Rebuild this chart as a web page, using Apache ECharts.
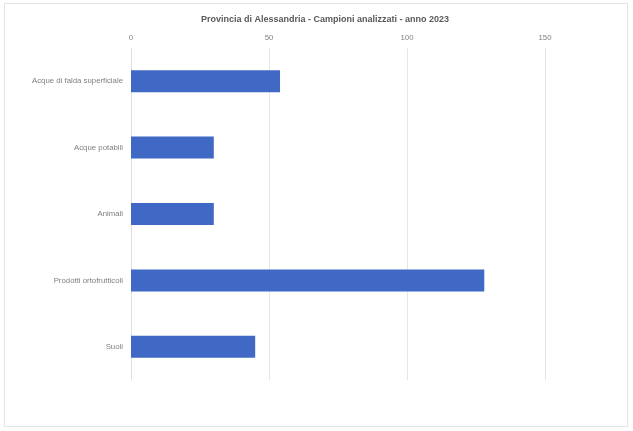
<!DOCTYPE html>
<html>
<head>
<meta charset="utf-8">
<script src="https://cdn.jsdelivr.net/npm/echarts@6/dist/echarts.min.js"></script>
<style>
  html, body { margin: 0; padding: 0; background: #ffffff; }
  #frame { position: absolute; left: 4px; top: 3px; width: 624px; height: 424px; border: 1px solid #e3e3e3; box-sizing: border-box; }
  #chart { width: 633px; height: 431px; position: absolute; left: 0; top: 0; }
</style>
</head>
<body>
<div id="frame"></div>
<div id="chart"></div>
<script>
// Sample categories and counts for 2023
const categories = [
  'Acque di falda superficiale',
  'Acque potabili',
  'Animali',
  'Prodotti ortofrutticoli',
  'Suoli'
];
const samples = [54, 30, 30, 128, 45];
const xTicks = [0, 50, 100, 150];

const chart = echarts.init(document.getElementById('chart'), null, { renderer: 'canvas' });
chart.setOption({
  backgroundColor: 'transparent',
  animation: false,
  title: {
    text: 'Provincia di Alessandria - Campioni analizzati - anno 2023',
    left: 320,
    textAlign: 'center',
    top: 10,
    textStyle: { fontFamily: 'Liberation Sans, Arial, sans-serif', fontSize: 9, fontWeight: 'bold', color: '#595959' }
  },
  grid: { left: 131, right: 88, top: 48, bottom: 51 },
  xAxis: {
    type: 'value',
    position: 'top',
    min: xTicks[0],
    max: xTicks[xTicks.length - 1],
    interval: 50,
    axisLine: { show: false },
    axisTick: { show: false },
    axisLabel: { fontFamily: 'Liberation Sans, Arial, sans-serif', fontSize: 7.8, color: '#7f7f7f', margin: 6 },
    splitLine: { lineStyle: { color: '#e6e6e6', width: 1 } }
  },
  yAxis: {
    type: 'category',
    data: categories,
    inverse: true,
    axisLine: { show: true, lineStyle: { color: '#e0e0e0' } },
    axisTick: { show: false },
    axisLabel: { fontFamily: 'Liberation Sans, Arial, sans-serif', fontSize: 7.8, color: '#7f7f7f', margin: 8 }
  },
  series: [{
    type: 'bar',
    data: samples,
    barWidth: 22,
    itemStyle: { color: '#4069c5' }
  }]
});
</script>
</body>
</html>
